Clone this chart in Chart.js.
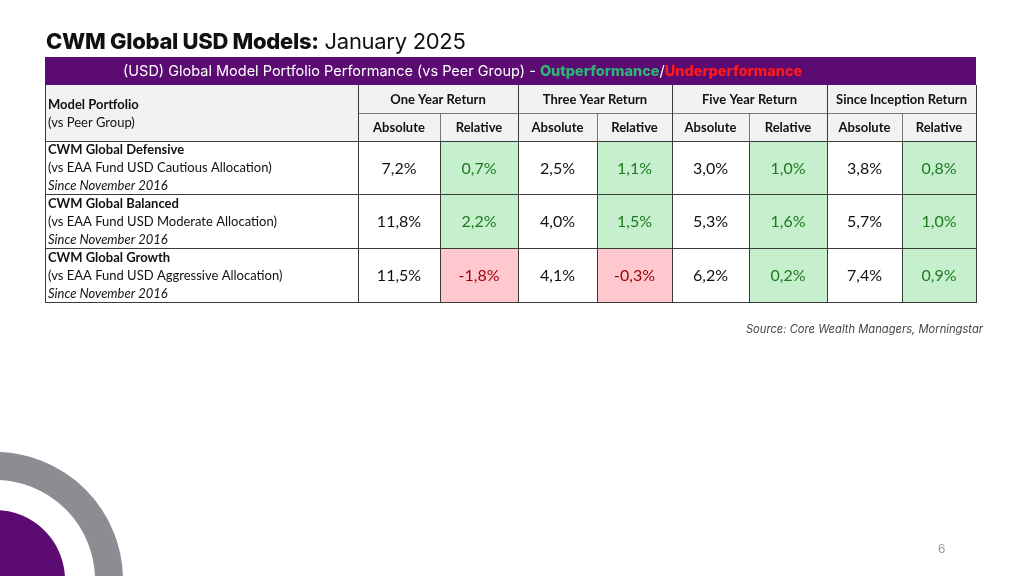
<!DOCTYPE html>
<html>
<head>
<meta charset="utf-8">
<script src="https://cdn.jsdelivr.net/npm/chart.js@4.4.1/dist/chart.umd.min.js"></script>
<style>
  html,body{margin:0;padding:0;background:#fff;width:1024px;height:576px;overflow:hidden;}
  #wrap{position:absolute;left:0;top:0;width:1024px;height:576px;}
  #chart{position:absolute;left:0;top:0;}
  .title{position:absolute;left:46px;top:27px;font-family:Inter,"Noto Sans",sans-serif;font-size:22px;line-height:28px;color:#111;white-space:nowrap;letter-spacing:-0.3px;}
  .title b{font-weight:800;}
  .source{position:absolute;right:41px;top:322px;font-family:Inter,"Noto Sans",sans-serif;font-style:italic;font-size:11.2px;color:#444;white-space:nowrap;}
  .page{position:absolute;left:938px;top:541px;font-family:Inter,"Noto Sans",sans-serif;font-size:12px;color:#999;}
  svg.deco{position:absolute;left:0;top:0;}
</style>
</head>
<body>
<div id="wrap">
  <svg class="deco" width="1024" height="576">
    <circle cx="-5" cy="580" r="114" fill="none" stroke="#8e8b93" stroke-width="28"/>
    <circle cx="-5" cy="580" r="70" fill="#5c0b73"/>
  </svg>
  <canvas id="chart" width="1024" height="576"></canvas>
  <div class="title"><b>CWM Global USD Models:</b> January 2025</div>
  <div class="source">Source: Core Wealth Managers, Morningstar</div>
  <div class="page">6</div>
</div>
<script>
// ---------- DATA ----------
const headerTitle = "(USD) Global Model Portfolio Performance (vs Peer Group) - ";
const outLabel = "Outperformance";
const underLabel = "Underperformance";
const firstColTitle = ["Model Portfolio", "(vs Peer Group)"];
const periods = ["One Year Return", "Three Year Return", "Five Year Return", "Since Inception Return"];
const subHeaders = ["Absolute", "Relative"];
const portfolios = ["CWM Global Defensive", "CWM Global Balanced", "CWM Global Growth"];
const peerGroups = ["(vs EAA Fund USD Cautious Allocation)", "(vs EAA Fund USD Moderate Allocation)", "(vs EAA Fund USD Aggressive Allocation)"];
const inceptions = ["Since November 2016", "Since November 2016", "Since November 2016"];
const oneYearAbs = [7.2, 11.8, 11.5];
const oneYearRel = [0.7, 2.2, -1.8];
const threeYearAbs = [2.5, 4.0, 4.1];
const threeYearRel = [1.1, 1.5, -0.3];
const fiveYearAbs = [3.0, 5.3, 6.2];
const fiveYearRel = [1.0, 1.6, 0.2];
const inceptionAbs = [3.8, 5.7, 7.4];
const inceptionRel = [0.8, 1.0, 0.9];

// ---------- LAYOUT (table units = px) ----------
const colEdges = [0, 313, 395, 473, 552, 627, 704, 782, 857, 931];
const rowEdges = [0, 28, 56, 83.5, 137.3, 191.3, 245.3];
const C = {
  purple: "#5c0b73", greyBox: "#6e6e73", headBg: "#f2f2f2",
  goodBg: "#c6efce", goodTx: "#1e7a1e", badBg: "#ffc7ce", badTx: "#9c0006",
  outTx: "#2bb673", underTx: "#ff1a1a", line: "#3a3a3a", text: "#111"
};

const absCols = [oneYearAbs, threeYearAbs, fiveYearAbs, inceptionAbs];
const relCols = [oneYearRel, threeYearRel, fiveYearRel, inceptionRel];
const fmt = v => v.toFixed(1).replace('.', ',') + '%';

function band(r0, r1, c0, c1, color) {
  return {
    data: [{ y: (rowEdges[r0] + rowEdges[r1]) / 2, x: [colEdges[c0], colEdges[c1]] }],
    backgroundColor: color, barThickness: rowEdges[r1] - rowEdges[r0],
    grouped: false, borderWidth: 0, inflateAmount: 0
  };
}
const datasets = [
  band(0, 1, 0, 9, C.purple),
  { ...band(0, 1, 0, 1, C.greyBox), data: [{ y: rowEdges[1] / 2, x: [0, 75] }] },
  band(1, 2, 0, 9, C.headBg),
  band(2, 3, 0, 9, C.headBg)
];
relCols.forEach((col, p) => {
  col.forEach((v, r) => {
    datasets.push(band(3 + r, 4 + r, 2 + p * 2, 3 + p * 2, v >= 0 ? C.goodBg : C.badBg));
  });
});

const LF = "Lato, sans-serif";
const HF = "Inter, 'Noto Sans', sans-serif";
const tablePlugin = {
  id: 'tableText',
  afterDatasetsDraw(chart) {
    const ctx = chart.ctx, xs = chart.scales.x, ys = chart.scales.y;
    const X = v => xs.getPixelForValue(v), Y = v => ys.getPixelForValue(v);
    const cx = i => X(colEdges[i]), ry = i => Y(rowEdges[i]);
    ctx.save();
    // grid lines
    ctx.lineWidth = 1;
    const hl = (y, x0, x1) => { ctx.beginPath(); ctx.moveTo(x0, Math.round(y) + 0.5); ctx.lineTo(x1, Math.round(y) + 0.5); ctx.stroke(); };
    const vl = (x, y0, y1) => { ctx.beginPath(); ctx.moveTo(Math.round(x) + 0.5, y0); ctx.lineTo(Math.round(x) + 0.5, y1); ctx.stroke(); };
    ctx.strokeStyle = "#777";
    hl(ry(2), cx(1), cx(9));
    [2, 4, 6, 8].forEach(i => vl(cx(i), ry(2), ry(3)));
    ctx.strokeStyle = C.line;
    [3, 4, 5, 6].forEach(i => hl(ry(i), cx(0), cx(9) + 1));
    [0, 1, 3, 5, 7, 9].forEach(i => vl(cx(i), ry(1), ry(6)));
    [2, 4, 6, 8].forEach(i => vl(cx(i), ry(3), ry(6)));

    // purple header text
    ctx.textBaseline = 'middle'; ctx.textAlign = 'left';
    let tx = X(78), ty = Y(rowEdges[1] / 2) + 0.5;
    ctx.font = "400 14.5px " + HF; ctx.fillStyle = "#fff";
    ctx.fillText(headerTitle, tx, ty); tx += ctx.measureText(headerTitle).width;
    ctx.font = "800 14.5px " + HF; ctx.fillStyle = C.outTx;
    ctx.fillText(outLabel, tx, ty); tx += ctx.measureText(outLabel).width;
    ctx.font = "400 14.5px " + HF; ctx.fillStyle = "#fff";
    ctx.fillText("/", tx, ty); tx += ctx.measureText("/").width;
    ctx.font = "800 14.5px " + HF; ctx.fillStyle = C.underTx;
    ctx.fillText(underLabel, tx, ty);

    // first column header
    ctx.fillStyle = C.text;
    ctx.font = "700 13px " + LF;
    ctx.fillText(firstColTitle[0], cx(0) + 3, Y(20 + rowEdges[1]));
    ctx.font = "400 13px " + LF;
    ctx.fillText(firstColTitle[1], cx(0) + 3, Y(38 + rowEdges[1]));

    // period headers & sub headers
    ctx.textAlign = 'center';
    ctx.font = "700 13px " + LF;
    periods.forEach((p, i) => {
      ctx.fillText(p, (cx(1 + i * 2) + cx(3 + i * 2)) / 2, (ry(1) + ry(2)) / 2 + 1);
      subHeaders.forEach((s, j) => {
        ctx.fillText(s, (cx(1 + i * 2 + j) + cx(2 + i * 2 + j)) / 2, (ry(2) + ry(3)) / 2 + 1);
      });
    });

    // body rows
    portfolios.forEach((name, r) => {
      const top = rowEdges[3 + r];
      ctx.textAlign = 'left'; ctx.fillStyle = C.text;
      ctx.font = "700 13px " + LF;
      ctx.fillText(name, cx(0) + 3, Y(top + 9.5));
      ctx.font = "400 13px " + LF;
      ctx.fillText(peerGroups[r], cx(0) + 3, Y(top + 27.5));
      ctx.font = "italic 400 13px " + LF;
      ctx.fillText(inceptions[r], cx(0) + 3, Y(top + 45.5));
      ctx.textAlign = 'center';
      ctx.font = "400 16px " + LF;
      const ym = (ry(3 + r) + ry(4 + r)) / 2 + 1;
      absCols.forEach((col, p) => {
        ctx.fillStyle = C.text;
        ctx.fillText(fmt(col[r]), (cx(1 + p * 2) + cx(2 + p * 2)) / 2, ym);
        const rv = relCols[p][r];
        ctx.fillStyle = rv >= 0 ? C.goodTx : C.badTx;
        ctx.fillText(fmt(rv), (cx(2 + p * 2) + cx(3 + p * 2)) / 2, ym);
      });
    });
    ctx.restore();
  }
};

new Chart(document.getElementById('chart'), {
  type: 'bar',
  data: { datasets },
  options: {
    indexAxis: 'y',
    responsive: false,
    animation: false,
    events: [],
    layout: { padding: { left: 45, right: 1024 - 45 - colEdges[9], top: 57, bottom: 576 - 57 - rowEdges[6] } },
    scales: {
      x: { type: 'linear', min: 0, max: colEdges[9], display: false, offset: false },
      y: { type: 'linear', min: 0, max: rowEdges[6], reverse: true, display: false, offset: false }
    },
    plugins: { legend: { display: false }, tooltip: { enabled: false } }
  },
  plugins: [tablePlugin]
});
</script>
</body>
</html>
